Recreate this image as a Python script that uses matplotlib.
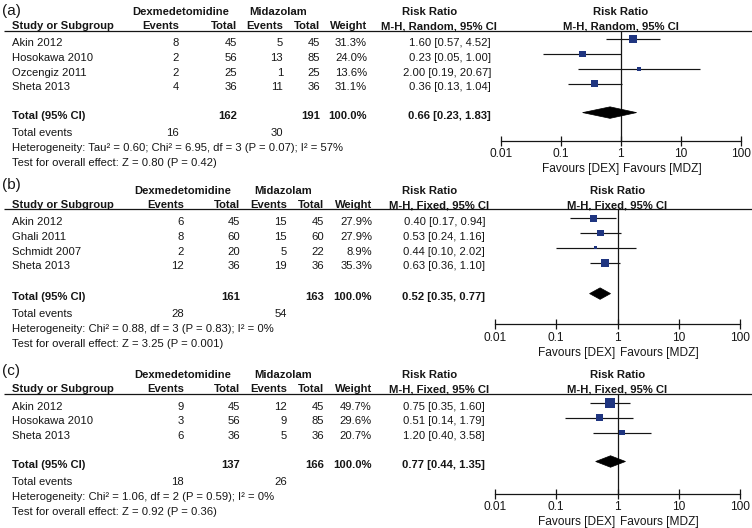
import matplotlib
matplotlib.use('Agg')
import matplotlib.pyplot as plt
from matplotlib.patches import Polygon
from matplotlib.ticker import NullLocator

plt.rcParams['font.family'] = ['Liberation Sans', 'DejaVu Sans']

W, H, DPI = 752, 528, 100

# ---------------- data ----------------
panel_labels = ['(a)', '(b)', '(c)']
group_dex = 'Dexmedetomidine'
group_mdz = 'Midazolam'
col_headers = ['Study or Subgroup', 'Events', 'Total', 'Events', 'Total', 'Weight']
rr_header = 'Risk Ratio'
methods = ['M-H, Random, 95% CI', 'M-H, Fixed, 95% CI', 'M-H, Fixed, 95% CI']
tick_values = [0.01, 0.1, 1, 10, 100]
tick_labels = ['0.01', '0.1', '1', '10', '100']
favours_left = 'Favours [DEX]'
favours_right = 'Favours [MDZ]'

a_studies = ['Akin 2012', 'Hosokawa 2010', 'Ozcengiz 2011', 'Sheta 2013']
a_dex_events = [8, 2, 2, 4]
a_dex_total = [45, 56, 25, 36]
a_mdz_events = [5, 13, 1, 11]
a_mdz_total = [45, 85, 25, 36]
a_weight = [31.3, 24.0, 13.6, 31.1]
a_rr = [1.60, 0.23, 2.00, 0.36]
a_lo = [0.57, 0.05, 0.19, 0.13]
a_hi = [4.52, 1.00, 20.67, 1.04]
a_total = [162, 191]
a_pooled = [0.66, 0.23, 1.83]
a_events = [16, 30]
a_het = 'Heterogeneity: Tau\u00b2 = 0.60; Chi\u00b2 = 6.95, df = 3 (P = 0.07); I\u00b2 = 57%'
a_test = 'Test for overall effect: Z = 0.80 (P = 0.42)'

b_studies = ['Akin 2012', 'Ghali 2011', 'Schmidt 2007', 'Sheta 2013']
b_dex_events = [6, 8, 2, 12]
b_dex_total = [45, 60, 20, 36]
b_mdz_events = [15, 15, 5, 19]
b_mdz_total = [45, 60, 22, 36]
b_weight = [27.9, 27.9, 8.9, 35.3]
b_rr = [0.40, 0.53, 0.44, 0.63]
b_lo = [0.17, 0.24, 0.10, 0.36]
b_hi = [0.94, 1.16, 2.02, 1.10]
b_total = [161, 163]
b_pooled = [0.52, 0.35, 0.77]
b_events = [28, 54]
b_het = 'Heterogeneity: Chi\u00b2 = 0.88, df = 3 (P = 0.83); I\u00b2 = 0%'
b_test = 'Test for overall effect: Z = 3.25 (P = 0.001)'

c_studies = ['Akin 2012', 'Hosokawa 2010', 'Sheta 2013']
c_dex_events = [9, 3, 6]
c_dex_total = [45, 56, 36]
c_mdz_events = [12, 9, 5]
c_mdz_total = [45, 85, 36]
c_weight = [49.7, 29.6, 20.7]
c_rr = [0.75, 0.51, 1.20]
c_lo = [0.35, 0.14, 0.40]
c_hi = [1.60, 1.79, 3.58]
c_total = [137, 166]
c_pooled = [0.77, 0.44, 1.35]
c_events = [18, 26]
c_het = 'Heterogeneity: Chi\u00b2 = 1.06, df = 2 (P = 0.59); I\u00b2 = 0%'
c_test = 'Test for overall effect: Z = 0.92 (P = 0.36)'

panels = [
    dict(studies=a_studies, de=a_dex_events, dt=a_dex_total, me=a_mdz_events, mt=a_mdz_total,
         w=a_weight, rr=a_rr, lo=a_lo, hi=a_hi, tot=a_total, pooled=a_pooled, ev=a_events,
         het=a_het, test=a_test),
    dict(studies=b_studies, de=b_dex_events, dt=b_dex_total, me=b_mdz_events, mt=b_mdz_total,
         w=b_weight, rr=b_rr, lo=b_lo, hi=b_hi, tot=b_total, pooled=b_pooled, ev=b_events,
         het=b_het, test=b_test),
    dict(studies=c_studies, de=c_dex_events, dt=c_dex_total, me=c_mdz_events, mt=c_mdz_total,
         w=c_weight, rr=c_rr, lo=c_lo, hi=c_hi, tot=c_total, pooled=c_pooled, ev=c_events,
         het=c_het, test=c_test),
]

# ---------------- layout (pixels) ----------------
layouts = [
    dict(line=30.5, label_y=15.5, row0=42.0, total_gap=29.0, axis=140.7,
         cols=[179, 237, 283, 320, 367], ci_x=491, dex_c=180.5, mdz_c=278,
         rr_c=430, mh_c=438.5, fx0=501, fx1=740.7),
    dict(line=209.3, label_y=189.0, row0=221.0, total_gap=31.0, axis=324.3,
         cols=[184, 240, 287, 324, 372], ci_x=485, dex_c=183, mdz_c=283.5,
         rr_c=430, mh_c=439.5, fx0=495, fx1=740),
    dict(line=393.7, label_y=375.0, row0=405.7, total_gap=29.0, axis=493.7,
         cols=[184, 240, 287, 324, 372], ci_x=485, dex_c=183, mdz_c=283.5,
         rr_c=430, mh_c=439.5, fx0=495, fx1=740),
]
STEP = 14.8
FS = 8.1
FS_F = 8.6
TXT = '#161616'
LINE = '#151515'
NAVY = '#1f3580'
BL = 4.0  # baseline offset from glyph centre

fig = plt.figure(figsize=(W / DPI, H / DPI), dpi=DPI)
tab = fig.add_axes([0, 0, 1, 1])
tab.set_xlim(0, W)
tab.set_ylim(H, 0)
tab.axis('off')


def t(x, y, s, ha='left', bold=False, fs=FS):
    tab.text(x, y + BL, s, ha=ha, va='baseline', fontsize=fs,
             fontweight='bold' if bold else 'normal', color=TXT)


def ci_str(r, l, h):
    return f'{r:.2f} [{l:.2f}, {h:.2f}]'


for k, (p, L) in enumerate(zip(panels, layouts)):
    line = L['line']
    cols = L['cols']
    # panel label
    tab.text(2, L['label_y'], panel_labels[k], fontsize=11, va='baseline', color=TXT)
    # header row 1
    h1 = line - 19.5
    t(L['dex_c'], h1, group_dex, ha='center', bold=True)
    t(L['mdz_c'], h1, group_mdz, ha='center', bold=True)
    t(L['rr_c'], h1, rr_header, ha='center', bold=True)
    # header row 2
    h2 = line - 5.2
    t(12, h2, col_headers[0], bold=True)
    for cx, s in zip(cols, col_headers[1:]):
        t(cx, h2, s, ha='right', bold=True)
    t(L['mh_c'], h2, methods[k], ha='center', bold=True)
    tab.plot([4, W], [line, line], color=LINE, lw=0.9, solid_capstyle='butt')

    # study rows
    ys = [L['row0'] + STEP * i for i in range(len(p['studies']))]
    for i, y in enumerate(ys):
        t(12, y, p['studies'][i])
        vals = [str(p['de'][i]), str(p['dt'][i]), str(p['me'][i]), str(p['mt'][i]),
                f"{p['w'][i]:.1f}%"]
        for cx, s in zip(cols, vals):
            t(cx, y, s, ha='right')
        t(L['ci_x'], y, ci_str(p['rr'][i], p['lo'][i], p['hi'][i]), ha='right')

    ytot = ys[-1] + L['total_gap']
    t(12, ytot, 'Total (95% CI)', bold=True)
    t(cols[1], ytot, str(p['tot'][0]), ha='right', bold=True)
    t(cols[3], ytot, str(p['tot'][1]), ha='right', bold=True)
    t(cols[4], ytot, f"{sum(p['w']):.1f}%", ha='right', bold=True)
    t(L['ci_x'], ytot, ci_str(*p['pooled']), ha='right', bold=True)
    yev = ytot + 16.3
    t(12, yev, 'Total events')
    t(cols[0], yev, str(p['ev'][0]), ha='right')
    t(cols[2], yev, str(p['ev'][1]), ha='right')
    yhet = yev + 15.3
    t(12, yhet, p['het'])
    t(12, yhet + 15.2, p['test'])

    # forest axes
    axis = L['axis']
    ax = fig.add_axes([L['fx0'] / W, 1 - axis / H, (L['fx1'] - L['fx0']) / W, (axis - line) / H])
    ax.set_xscale('log')
    ax.set_xlim(0.01, 100)
    ax.set_ylim(axis, line)
    ax.patch.set_visible(False)
    for s in ['top', 'right', 'left']:
        ax.spines[s].set_visible(False)
    ax.spines['bottom'].set_linewidth(0.9)
    ax.spines['bottom'].set_color(LINE)
    ax.set_yticks([])
    ax.set_xticks(tick_values)
    ax.set_xticklabels(tick_labels)
    ax.xaxis.set_minor_locator(NullLocator())
    ax.tick_params(axis='x', direction='inout', length=7, width=0.9, color=LINE,
                   labelsize=FS_F, pad=2, labelcolor=TXT)
    ax.axvline(1, color=LINE, lw=0.9)

    sy = [y - 2.8 for y in ys]
    ax.hlines(sy, p['lo'], p['hi'], color=LINE, lw=0.85, zorder=2)
    sides = [0.80 * w ** 0.65 * 0.72 for w in p['w']]
    ax.scatter(p['rr'], sy, s=[m ** 2 for m in sides], marker='s', color=NAVY,
               linewidths=0, zorder=3)
    r, lo, hi = p['pooled']
    yd = ytot - 2.8
    hh = 5.75
    ax.add_patch(Polygon([(lo, yd), (r, yd - hh), (hi, yd), (r, yd + hh)],
                         closed=True, facecolor='black', edgecolor='black', lw=0.5,
                         zorder=3))
    ax.text(1, line - 19.5 + BL, rr_header, ha='center', va='baseline', fontsize=FS,
            fontweight='bold', color=TXT, clip_on=False)
    ax.text(1, line - 5.2 + BL, methods[k], ha='center', va='baseline', fontsize=FS,
            fontweight='bold', color=TXT, clip_on=False)
    ax.text(0.93, axis + 27 + 4.3, favours_left, ha='right', va='baseline',
            fontsize=FS_F, color=TXT, clip_on=False)
    ax.text(1.08, axis + 27 + 4.3, favours_right, ha='left', va='baseline',
            fontsize=FS_F, color=TXT, clip_on=False)

fig.savefig('out.png', dpi=DPI)
